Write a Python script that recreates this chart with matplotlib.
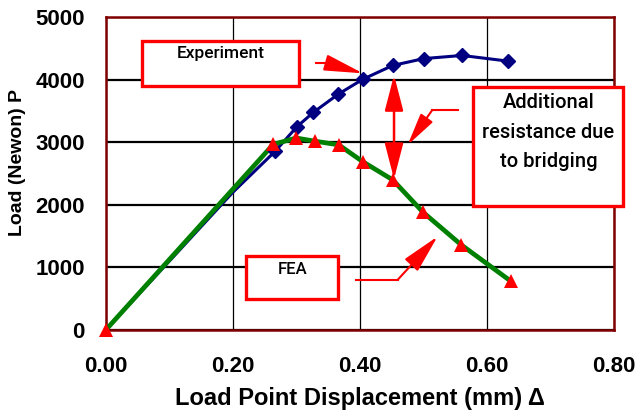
import matplotlib
matplotlib.use('Agg')
import matplotlib.pyplot as plt
from matplotlib.patches import Rectangle

plt.rcParams['font.family'] = ['Liberation Sans', 'DejaVu Sans']

# Datos
exp_disp = [0.0, 0.2, 0.267, 0.301, 0.327, 0.366, 0.405, 0.452, 0.501, 0.561, 0.633]
exp_load = [0, 2200, 2860, 3250, 3480, 3770, 4010, 4230, 4340, 4390, 4300]
fea_disp = [0.0, 0.264, 0.300, 0.329, 0.367, 0.405, 0.452, 0.500, 0.560, 0.638]
fea_load = [0, 2970, 3070, 3020, 2960, 2690, 2400, 1880, 1360, 780]

x_ticks = [0.0, 0.2, 0.4, 0.6, 0.8]
x_labels = ['0.00', '0.20', '0.40', '0.60', '0.80']
y_ticks = [0, 1000, 2000, 3000, 4000, 5000]
y_labels = ['0', '1000', '2000', '3000', '4000', '5000']

note_font = ['Roboto', 'DejaVu Sans']

fig = plt.figure(figsize=(6.4, 4.15), dpi=100)
ax = fig.add_axes([0.1652, 0.2048, 0.7938, 0.7535])

# curvas (los dos primeros puntos del experimento no llevan marcador)
ax.plot(exp_disp, exp_load, color='#000080', lw=2.2, zorder=3)
ax.plot(fea_disp, fea_load, color='#008000', lw=3.4, zorder=4)
ax.plot(exp_disp[2:], exp_load[2:], 'D', color='#000080', ms=7, zorder=5, clip_on=False)
ax.plot(fea_disp, fea_load, '^', color='#ff0000', ms=10, mew=0, zorder=6, clip_on=False)

ax.set_xlim(0, 0.8)
ax.set_ylim(0, 5000)
ax.set_xticks(x_ticks)
ax.set_xticklabels(x_labels)
ax.set_yticks(y_ticks)
ax.set_yticklabels(y_labels)
ax.tick_params(length=0, labelsize=16)
ax.tick_params(axis='y', pad=15)
ax.tick_params(axis='x', pad=19)
for lab in ax.get_xticklabels() + ax.get_yticklabels():
    lab.set_fontweight('bold')

ax.set_axisbelow(True)
ax.yaxis.grid(True, color='black', lw=1.6)
ax.xaxis.grid(True, color='black', lw=0.9)
for s in ax.spines.values():
    s.set_color('#800000')
    s.set_linewidth(1.8)

ax.set_xlabel('Load Point Displacement (mm) \u0394', fontsize=17, fontweight='bold', labelpad=7)
ax.set_ylabel('Load (Newon) P', fontsize=14, fontweight='bold')
ax.yaxis.set_label_coords(-0.156, 0.537)

# cajas de texto
def box(x0, x1, y0, y1):
    r = Rectangle((x0, y0), x1 - x0, y1 - y0, facecolor='white', edgecolor='#ff0000',
                  lw=2.4, zorder=7, clip_on=False)
    ax.add_patch(r)

box(0.0567, 0.3044, 3906, 4620)
ax.text(0.1805, 4417, 'Experiment', family=note_font, fontsize=12.5, fontweight='medium',
        ha='center', va='center', zorder=8)

box(0.5789, 0.8151, 1982, 3890)
for txt, yy in [('Additional', 3640), ('resistance due', 3154), ('to bridging', 2691)]:
    ax.text(0.697, yy, txt, family=note_font, fontsize=14.5, fontweight='medium',
            ha='center', va='center', zorder=8)

box(0.2211, 0.3663, 488, 1188)
ax.text(0.294, 966, 'FEA', family=note_font, fontsize=12, fontweight='medium',
        ha='center', va='center', zorder=8)

# flechas
red = '#ff0000'
ax.plot([0.3312, 0.3501], [4264, 4264], color=red, lw=1.5, zorder=8)
ax.annotate('', xy=(0.4052, 4104), xytext=(0.3501, 4264),
            arrowprops=dict(arrowstyle='-|>,head_length=2.4,head_width=0.5', mutation_scale=10,
                            color=red, lw=1.5, shrinkA=0, shrinkB=0), zorder=8)

ax.annotate('', xy=(0.454, 4077), xytext=(0.454, 2414),
            arrowprops=dict(arrowstyle='<|-|>,head_length=2.2,head_width=0.57', mutation_scale=10,
                            color=red, lw=1.8, shrinkA=0, shrinkB=0), zorder=8)

ax.plot([0.5546, 0.5142], [3517, 3517], color=red, lw=1.5, zorder=8)
ax.annotate('', xy=(0.4754, 2958), xytext=(0.5142, 3517),
            arrowprops=dict(arrowstyle='-|>,head_length=2.0,head_width=0.45', mutation_scale=10,
                            color=red, lw=1.5, shrinkA=0, shrinkB=0), zorder=8)

ax.plot([0.3937, 0.4600], [806, 806], color=red, lw=1.5, zorder=8)
ax.annotate('', xy=(0.5225, 1495), xytext=(0.4600, 806),
            arrowprops=dict(arrowstyle='-|>,head_length=2.4,head_width=0.55', mutation_scale=10,
                            color=red, lw=1.5, shrinkA=0, shrinkB=0), zorder=8)

fig.savefig('out.png', dpi=100)
